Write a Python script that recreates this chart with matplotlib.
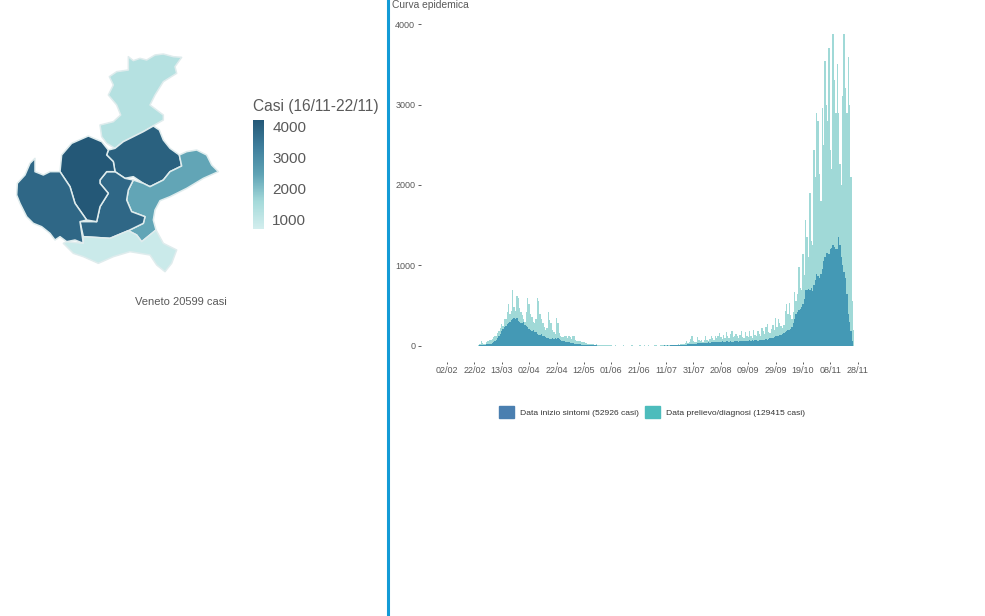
import numpy as np
import matplotlib
matplotlib.use("Agg")
import matplotlib.pyplot as plt
from matplotlib.collections import PolyCollection
from matplotlib.colors import LinearSegmentedColormap, Normalize
from matplotlib.patches import Patch

plt.rcParams['font.family'] = ['Liberation Sans', 'DejaVu Sans']

# casi per provincia (settimana 16/11-22/11)
province = ["Belluno", "Treviso", "Venezia", "Padova", "Vicenza", "Verona", "Rovigo"]
casi_provincia = [1250, 4000, 2400, 3850, 4200, 3850, 850]

belluno = [(385,50),(400,62),(420,55),(440,60),(465,45),(490,42),(520,50),(545,52),(525,80),(530,100),(490,125),(465,165),(450,195),
           (490,225),(490,240),(455,260),(430,275),(400,290),(370,305),(345,325),(320,310),(305,290),(300,255),
           (340,245),(362,225),(350,195),(325,165),(340,135),(328,110),(350,95),(385,90)]
treviso = [(345,325),(370,305),(400,290),(430,275),(460,258),(478,270),(490,300),(510,325),(538,345),(545,378),
           (510,395),(490,420),(470,430),(450,440),(430,430),(400,410),(375,415),(345,395),(340,365),(320,345),(325,330)]
venezia = [(545,378),(538,345),(560,335),(590,330),(620,345),(635,375),(655,395),(610,415),(560,445),(510,470),
           (480,482),(465,510),(460,540),(468,570),(425,605),(410,585),(385,572),(430,550),(435,530),(395,515),
           (380,480),(385,450),(400,420),(430,430),(450,440),(490,420),(510,395)]
padova = [(300,420),(320,395),(345,395),(375,415),(400,420),(385,450),(380,480),(395,515),(435,530),(430,550),
          (385,572),(330,595),(250,590),(240,545),(290,545),(300,500),(325,460),(300,430)]
vicenza = [(180,395),(185,345),(215,310),(265,288),(305,305),(325,330),(320,345),(340,365),(345,395),(320,395),
           (300,420),(300,430),(325,460),(300,500),(290,545),(260,540),(225,490),(210,440)]
verona = [(52,430),(75,405),(90,370),(105,355),(105,395),(130,405),(150,395),(180,395),(210,440),(225,490),
          (260,540),(240,545),(250,610),(225,600),(200,605),(180,590),(165,600),(150,580),(125,560),(100,550),
          (80,530),(70,510),(60,490),(50,465)]
rovigo = [(190,610),(200,605),(250,610),(250,590),(330,595),(385,572),(410,585),(425,605),(468,570),(490,610),
          (530,630),(515,670),(495,695),(470,675),(450,645),(390,635),(340,650),(295,670),(250,650),(220,640)]
contorni = [belluno, treviso, venezia, padova, vicenza, verona, rovigo]

# curva epidemica, valori giornalieri per mese (febbraio parte dal 22/02)
sintomi_feb = [1,2,3,5,8,12,14,16]
sintomi_mar = [18,22,25,30,28,35,45,60,75,100,130,150,190,210,235,250,270,290,300,320,340,350,330,345,310,300,290,280,300,260,250]
sintomi_apr = [230,210,200,185,200,170,175,150,140,135,145,130,120,110,105,95,90,85,95,90,100,90,95,85,70,65,60,60,55,50]
sintomi_mag = [48,42,40,35,30,28,24,22,20,18,16,15,14,12,10,10,9,8,7,6,6,5,5,4,4,4,3,3,3,3,3]
sintomi_giu = [3,3,2,2,3,2,2,3,2,2,3,2,2,2,3,2,3,2,2,3,3,2,2,3,3,2,3,3,4,3]
sintomi_lug = [3,3,4,4,3,4,5,4,5,6,5,6,5,6,7,6,8,7,9,8,10,9,12,14,16,18,20,22,25,24,28]
sintomi_ago = [30,28,32,35,33,38,36,40,38,42,45,40,48,46,50,52,48,55,50,52,58,54,50,56,60,55,58,52,55,60,56]
sintomi_set = [58,55,60,62,58,65,60,68,62,70,65,72,68,70,75,68,72,78,75,70,80,85,78,90,95,100,105,110,120,130]
sintomi_ott = [125,135,140,150,160,170,185,200,195,210,240,280,330,400,420,450,460,480,520,580,700,690,710,700,720,680,760,820,890,870,850]
sintomi_nov = [900,960,1060,1100,1160,1150,1140,1200,1220,1250,1230,1210,1200,1350,1250,1100,1000,920,850,650,400,300,190,60,5]

diagnosi_feb = [0,3,5,10,30,60,40,30]
diagnosi_mar = [30,50,60,70,80,90,110,130,130,160,190,220,270,250,330,340,420,520,400,430,700,480,430,620,600,470,420,380,330,300,420]
diagnosi_apr = [590,520,400,360,300,280,330,590,560,400,330,280,240,200,220,420,320,280,200,170,150,350,280,160,130,110,110,130,130,100]
diagnosi_mag = [120,110,90,130,120,70,65,60,60,50,55,45,40,35,30,30,25,25,20,18,20,15,15,12,12,10,8,8,10,8,6]
diagnosi_giu = [8,5,4,6,5,4,3,4,5,6,4,3,5,4,3,6,5,4,3,5,4,6,4,3,8,5,4,6,5,4]
diagnosi_lug = [5,4,6,8,5,4,6,10,7,5,8,12,6,8,10,15,10,8,12,20,15,25,30,20,40,60,35,45,90,130,60]
diagnosi_ago = [50,45,110,70,60,75,55,80,120,70,65,90,130,100,80,130,95,120,160,110,90,140,100,170,120,100,150,190,110,130,150]
diagnosi_set = [120,100,140,180,110,100,170,120,110,180,130,100,200,140,120,190,150,130,220,180,150,240,270,170,160,210,260,200,350,230]
diagnosi_ott = [340,280,250,220,260,430,520,400,530,380,330,420,670,560,640,980,720,700,1140,880,1560,1350,1100,1900,1300,1250,2430,2100,2900,2800,2140]
diagnosi_nov = [1800,2960,2500,3540,3000,2800,3700,2430,2200,3870,3300,2900,3500,2900,2260,2000,3100,3880,3200,2900,3590,3000,2100,560,200]

etichette_x = ["02/02","22/02","13/03","02/04","22/04","12/05","01/06","21/06","11/07","31/07",
               "20/08","09/09","29/09","19/10","08/11","28/11"]
tick_y = [0, 1000, 2000, 3000, 4000]

sintomi = sintomi_feb + sintomi_mar + sintomi_apr + sintomi_mag + sintomi_giu + sintomi_lug + sintomi_ago + sintomi_set + sintomi_ott + sintomi_nov
diagnosi = diagnosi_feb + diagnosi_mar + diagnosi_apr + diagnosi_mag + diagnosi_giu + diagnosi_lug + diagnosi_ago + diagnosi_set + diagnosi_ott + diagnosi_nov
giorni = np.arange(len(sintomi)) + 20

W, H = 985, 616
GRIGIO = "#5a5a5a"


def rect_px(left, top, right, bottom):
    return [left / W, 1 - bottom / H, (right - left) / W, (bottom - top) / H]


fig = plt.figure(figsize=(W / 100, H / 100), dpi=100, facecolor="white")

# mappa
ax_map = fig.add_axes(rect_px(0, 40, 390, 310))
ax_map.set_xlim(0, 1170)
ax_map.set_ylim(810, 0)
ax_map.axis("off")

cmap = LinearSegmentedColormap.from_list("casi", ["#d3eeee", "#a5dada", "#5fa3b5", "#3f7f9d", "#245877"])
norm = Normalize(680, 4200)
poly = PolyCollection(contorni, array=np.array(casi_provincia), cmap=cmap, norm=norm,
                      edgecolors="#dfeced", linewidths=1.1)
ax_map.add_collection(poly)

cax = fig.add_axes(rect_px(253, 120, 264, 229))
cb = fig.colorbar(poly, cax=cax, ticks=[1000, 2000, 3000, 4000])
cb.outline.set_visible(False)
cb.ax.tick_params(length=0, labelsize=11, labelcolor=GRIGIO, pad=6)
fig.text(253 / W, 1 - 106 / H, "Casi (16/11-22/11)", fontsize=11.2, color=GRIGIO, va="center", ha="left")
fig.text(181 / W, 1 - 302 / H, "Veneto 20599 casi", fontsize=8, color=GRIGIO, va="center", ha="center")

# riga blu di separazione
fig.add_artist(plt.Line2D([388 / W, 388 / W], [0, 1], color="#139bd6", lw=2.2))

# curva epidemica
ax = fig.add_axes(rect_px(421, 8, 866, 362))
ax.bar(giorni, diagnosi, width=1.0, color="#a0d9d7", linewidth=0)
ax.bar(giorni, sintomi, width=1.0, color="#4499b5", linewidth=0)
ax.set_xlim(-19, 306)
ax.set_ylim(-199, 4199)
for s in ax.spines.values():
    s.set_visible(False)
ax.set_xticks(np.arange(len(etichette_x)) * 20)
ax.set_xticklabels(etichette_x)
ax.set_yticks(tick_y)
ax.tick_params(axis="y", labelsize=6.5, labelcolor=GRIGIO, length=2.2, width=0.6, color="#444444", pad=2)
ax.tick_params(axis="x", labelsize=6.5, labelcolor=GRIGIO, length=1.6, width=0.6, color="#444444", pad=1.6)
fig.text(392 / W, 1 - 5.5 / H, "Curva epidemica", fontsize=7.4, color=GRIGIO, va="center", ha="left")

maniglie = [Patch(color="#4a7fb0", label="Data inizio sintomi (52926 casi)"),
            Patch(color="#4dbcbc", label="Data prelievo/diagnosi (129415 casi)")]
fig.legend(handles=maniglie, loc="center", bbox_to_anchor=(652 / W, 1 - 412 / H), ncol=2, frameon=False,
           fontsize=6.1, handlelength=1.8, handleheight=1.8, handletextpad=0.7, columnspacing=0.7,
           labelcolor="#333333")

plt.savefig("out.png", dpi=100)
